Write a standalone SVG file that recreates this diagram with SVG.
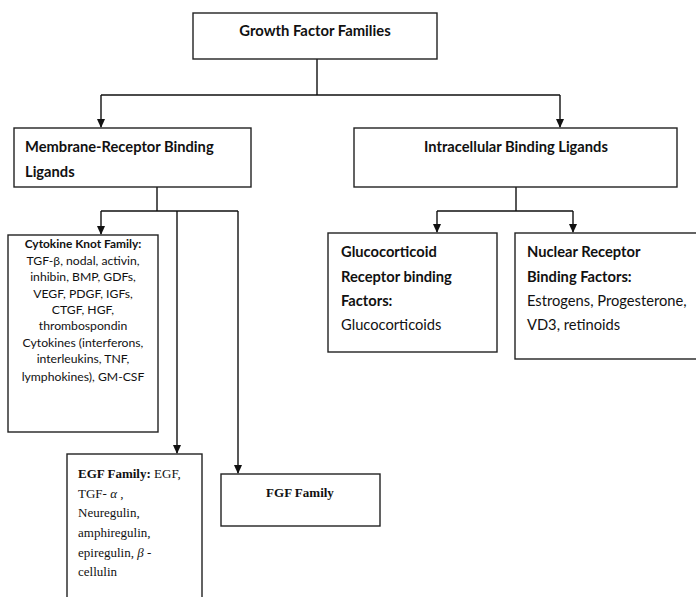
<svg xmlns="http://www.w3.org/2000/svg" width="696" height="597" viewBox="0 0 696 597">
<style>
.box{fill:#fff;stroke:#222;stroke-width:1.4}
.c{fill:none;stroke:#111;stroke-width:1.4}
.sb{font-family:Lato,"Liberation Sans",sans-serif;font-weight:bold;fill:#111}
.s{font-family:Lato,"Liberation Sans",sans-serif;fill:#111}
.t{font-family:"Liberation Serif",serif;fill:#111;font-size:13px}
</style>
<rect width="696" height="597" fill="#fff"/>
<g id="connectors">
<path class="c" d="M317,59 V95 M101,95 H560"/>
<path class="c" d="M101,95 V127"/>
<path class="c" d="M560,95 V127"/>
<path class="c" d="M157,187 V211 M101,211 H238"/>
<path class="c" d="M101,211 V234"/>
<path class="c" d="M177,211 V453"/>
<path class="c" d="M238,211 V473"/>
<path class="c" d="M516,187 V211 M437,211 H573"/>
<path class="c" d="M437,211 V232"/>
<path class="c" d="M573,211 V232"/>
</g>
<g id="arrowheads" fill="#111">
<path d="M97,119 H105 L101,128 Z"/>
<path d="M556,119 H564 L560,128 Z"/>
<path d="M97,226 H105 L101,235 Z"/>
<path d="M173,445 H181 L177,454 Z"/>
<path d="M234,465 H242 L238,474 Z"/>
<path d="M433,224 H441 L437,233 Z"/>
<path d="M569,224 H577 L573,233 Z"/>
</g>
<g id="growth">
<rect class="box" x="193" y="13" width="244" height="46"/>
<text class="sb" x="315" y="36" font-size="14.8" text-anchor="middle">Growth Factor Families</text>
</g>
<g id="membrane">
<rect class="box" x="14" y="128" width="237" height="59"/>
<text class="sb" x="25" y="152" font-size="14.7">Membrane-Receptor Binding</text>
<text class="sb" x="25" y="177" font-size="14.7">Ligands</text>
</g>
<g id="intracellular">
<rect class="box" x="354" y="128" width="323" height="59"/>
<text class="sb" x="516" y="152" font-size="14.7" text-anchor="middle">Intracellular Binding Ligands</text>
</g>
<g id="cytokine">
<rect class="box" x="8" y="235" width="150" height="197"/>
<g text-anchor="middle" font-size="12.2">
<text class="sb" x="83" y="248" font-size="11.9">Cytokine Knot Family:</text>
<text class="s" x="83" y="265">TGF-β, nodal, activin,</text>
<text class="s" x="83" y="281">inhibin, BMP, GDFs,</text>
<text class="s" x="83" y="298">VEGF, PDGF, IGFs,</text>
<text class="s" x="83" y="314">CTGF, HGF,</text>
<text class="s" x="83" y="330">thrombospondin</text>
<text class="s" x="83" y="347">Cytokines (interferons,</text>
<text class="s" x="83" y="363">interleukins, TNF,</text>
<text class="s" x="83" y="381">lymphokines), GM-CSF</text>
</g>
</g>
<g id="egf">
<rect class="box" x="67" y="454" width="135" height="150"/>
<text class="t" x="78" y="478"><tspan font-weight="bold">EGF Family:</tspan> EGF,</text>
<text class="t" x="78" y="498">TGF- <tspan font-style="italic">α</tspan> ,</text>
<text class="t" x="78" y="517">Neuregulin,</text>
<text class="t" x="78" y="537">amphiregulin,</text>
<text class="t" x="78" y="557">epiregulin,  <tspan font-style="italic">β</tspan> -</text>
<text class="t" x="78" y="576">cellulin</text>
</g>
<g id="fgf">
<rect class="box" x="221" y="474" width="159" height="52"/>
<text class="t" x="300" y="497" font-size="13.5" font-weight="bold" text-anchor="middle">FGF Family</text>
</g>
<g id="glucocorticoid">
<rect class="box" x="328" y="233" width="169" height="119"/>
<text class="sb" x="341" y="257" font-size="14.7">Glucocorticoid</text>
<text class="sb" x="341" y="282" font-size="14.7">Receptor binding</text>
<text class="sb" x="341" y="306" font-size="14.7">Factors:</text>
<text class="s" x="341" y="330" font-size="14.7">Glucocorticoids</text>
</g>
<g id="nuclear">
<rect class="box" x="515" y="233" width="190" height="126"/>
<text class="sb" x="527" y="257" font-size="14.7">Nuclear Receptor</text>
<text class="sb" x="527" y="282" font-size="14.7">Binding Factors:</text>
<text class="s" x="527" y="306" font-size="14.7">Estrogens, Progesterone,</text>
<text class="s" x="527" y="330" font-size="14.7">VD3, retinoids</text>
</g>
</svg>
